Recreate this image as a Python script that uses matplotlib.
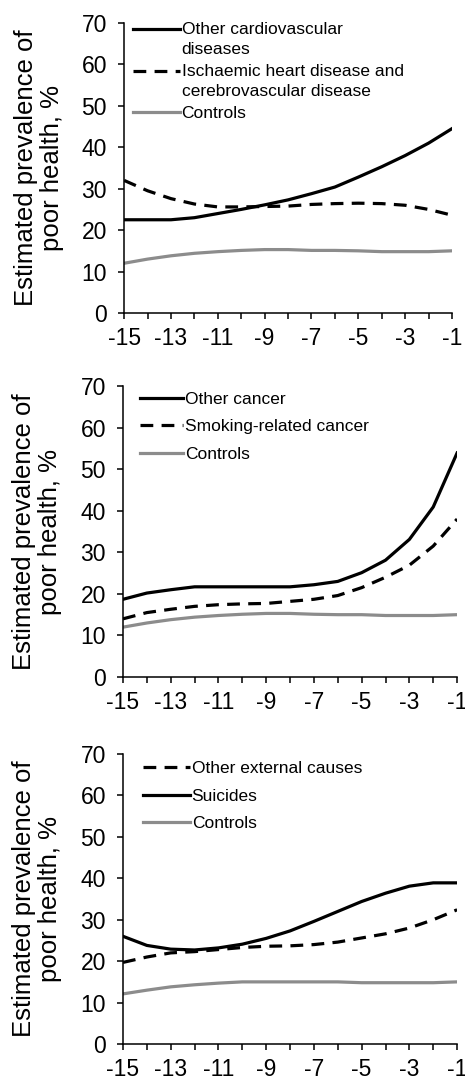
import numpy as np
import matplotlib
matplotlib.use("Agg")
from matplotlib import pyplot as plt
from matplotlib.legend_handler import HandlerLine2D

plt.rcParams['font.family'] = ['Liberation Sans', 'DejaVu Sans']

# years before death
years = [-15, -14, -13, -12, -11, -10, -9, -8, -7, -6, -5, -4, -3, -2, -1]
year_labels = ['-15', '', '-13', '', '-11', '', '-9', '', '-7', '', '-5', '', '-3', '', '-1']
y_ticks = [0, 10, 20, 30, 40, 50, 60, 70]

# panel 1: cardiovascular
other_cvd = [22.5, 22.5, 22.5, 23.0, 24.0, 25.0, 26.1, 27.3, 28.8, 30.4, 32.8, 35.3, 38.0, 41.0, 44.5]
ihd_cvd = [32.0, 29.5, 27.6, 26.3, 25.6, 25.6, 25.7, 25.8, 26.2, 26.4, 26.5, 26.4, 26.0, 25.0, 23.6]
controls_1 = [12.0, 13.0, 13.8, 14.4, 14.8, 15.1, 15.3, 15.3, 15.1, 15.1, 15.0, 14.8, 14.8, 14.8, 15.0]

# panel 2: cancer
other_cancer = [18.7, 20.2, 21.0, 21.7, 21.7, 21.7, 21.7, 21.7, 22.2, 23.0, 25.1, 28.1, 33.1, 40.9, 53.9]
smoking_cancer = [14.0, 15.5, 16.3, 17.0, 17.4, 17.6, 17.7, 18.2, 18.7, 19.6, 21.5, 24.0, 26.9, 31.5, 38.0]
controls_2 = [12.0, 13.0, 13.8, 14.4, 14.8, 15.1, 15.3, 15.3, 15.1, 15.0, 15.0, 14.8, 14.8, 14.8, 15.0]

# panel 3: external causes
other_external = [19.7, 21.0, 22.0, 22.3, 22.8, 23.3, 23.6, 23.7, 24.0, 24.6, 25.6, 26.6, 28.0, 30.0, 32.4]
suicides = [26.0, 23.8, 22.9, 22.7, 23.2, 24.1, 25.5, 27.3, 29.6, 32.0, 34.4, 36.4, 38.1, 38.9, 38.9]
controls_3 = [12.1, 13.0, 13.8, 14.3, 14.7, 15.0, 15.0, 15.0, 15.0, 15.0, 14.8, 14.8, 14.8, 14.8, 15.0]

BLACK = '#000000'
GREY = '#8c8c8c'
LW = 2.3
DASH = (4, 2.6)


class TopLine(HandlerLine2D):
    # put the legend line next to the first line of a two-line label
    def create_artists(self, legend, orig_handle, xdescent, ydescent, width, height, fontsize, trans):
        arts = super().create_artists(legend, orig_handle, xdescent, ydescent, width, height, fontsize, trans)
        for a in arts:
            a.set_ydata(np.asarray(a.get_ydata()) + 0.6 * fontsize)
        return arts


def style_axes(ax):
    ax.set_xlim(-15, -1)
    ax.set_ylim(0, 70)
    ax.set_xticks(years)
    ax.set_xticklabels(year_labels)
    ax.set_yticks(y_ticks)
    ax.spines['top'].set_visible(False)
    ax.spines['right'].set_visible(False)
    ax.spines['left'].set_linewidth(1.1)
    ax.spines['bottom'].set_linewidth(1.1)
    ax.tick_params(direction='out', length=4.3, width=1.1, labelsize=16.5)
    ax.tick_params(axis='y', pad=8)
    ax.tick_params(axis='x', pad=6)
    ax.set_ylabel('Estimated prevalence of\npoor health, %', fontsize=18.5, linespacing=1.1, labelpad=13)


fig = plt.figure(figsize=(4.65, 10.81), dpi=100)

ax1 = fig.add_axes([0.267, 0.7105, 0.705, 0.2682])
l1, = ax1.plot(years, other_cvd, color=BLACK, lw=LW, label='Other cardiovascular\ndiseases')
l2, = ax1.plot(years, ihd_cvd, color=BLACK, lw=LW, dashes=DASH,
               label='Ischaemic heart disease and\ncerebrovascular disease')
l3, = ax1.plot(years, controls_1, color=GREY, lw=LW, label='Controls')
style_axes(ax1)
leg1 = ax1.legend(handles=[l1, l2, l3], loc='upper left', bbox_to_anchor=(0.027, 1.003),
                  frameon=False, fontsize=12.5, handlelength=2.7, handletextpad=0.1,
                  labelspacing=0.42, borderpad=0, borderaxespad=0,
                  handler_map={l1: TopLine(), l2: TopLine()})
for t in leg1.get_texts():
    t.set_linespacing(1.4)

ax2 = fig.add_axes([0.2645, 0.3737, 0.7185, 0.2692])
m1, = ax2.plot(years, other_cancer, color=BLACK, lw=LW, label='Other cancer')
m2, = ax2.plot(years, smoking_cancer, color=BLACK, lw=LW, dashes=DASH, label='Smoking-related cancer')
m3, = ax2.plot(years, controls_2, color=GREY, lw=LW, label='Controls')
style_axes(ax2)
ax2.legend(handles=[m1, m2, m3], loc='upper left', bbox_to_anchor=(0.05, 0.981),
           frameon=False, fontsize=12.5, handlelength=2.5, handletextpad=0.1,
           labelspacing=0.71, borderpad=0, borderaxespad=0)

ax3 = fig.add_axes([0.2645, 0.0342, 0.7185, 0.2683])
n1, = ax3.plot(years, other_external, color=BLACK, lw=LW, dashes=DASH, label='Other external causes')
n2, = ax3.plot(years, suicides, color=BLACK, lw=LW, label='Suicides')
n3, = ax3.plot(years, controls_3, color=GREY, lw=LW, label='Controls')
style_axes(ax3)
ax3.legend(handles=[n1, n2, n3], loc='upper left', bbox_to_anchor=(0.06, 0.976),
           frameon=False, fontsize=12.5, handlelength=2.7, handletextpad=0.1,
           labelspacing=0.71, borderpad=0, borderaxespad=0)

fig.savefig('out.png', dpi=100)
